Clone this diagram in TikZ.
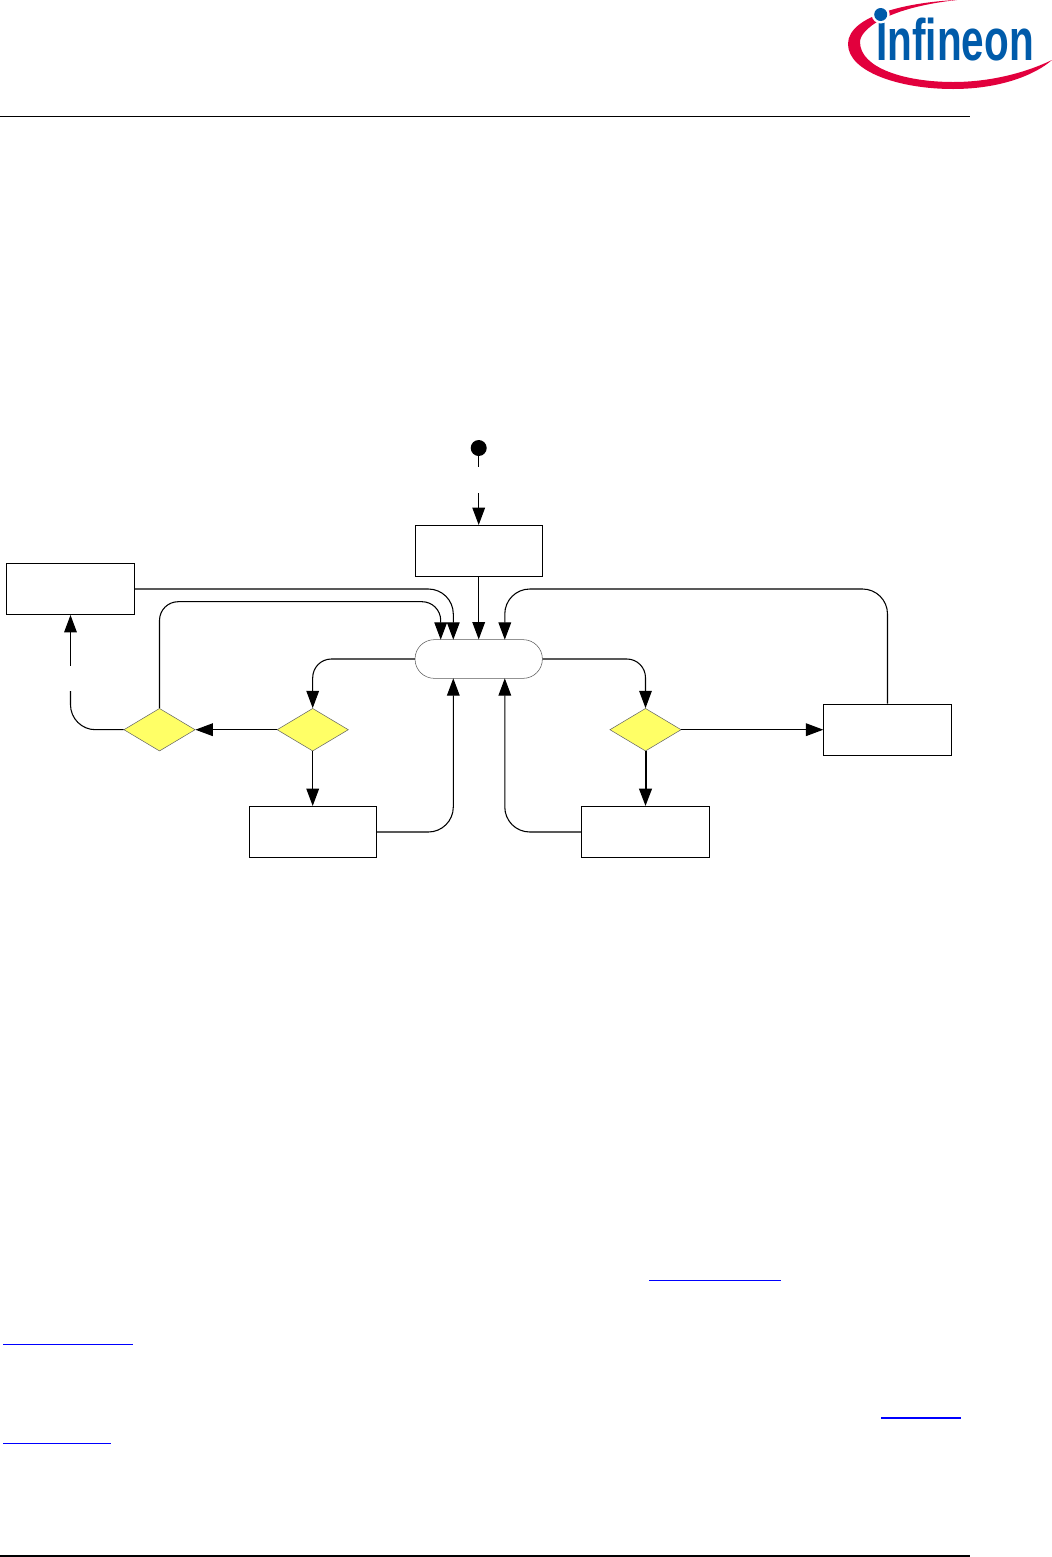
\documentclass[tikz,border=0pt]{standalone}
\usepackage{fontspec}
\usepackage{xcolor}
\usetikzlibrary{arrows.meta,shapes.geometric}
\newfontfamily\logofont[Ligatures=NoCommon]{Liberation Sans}
\definecolor{logoblue}{HTML}{005BAA}
\definecolor{logored}{HTML}{E2003D}
\definecolor{linkblue}{HTML}{0000FF}
\definecolor{decisionyellow}{HTML}{FFFF66}

\begin{document}
\begin{tikzpicture}[x=0.75pt,y=0.75pt,yscale=-1,xscale=1,
		statebox/.style={draw,line width=0.8pt,rectangle,inner sep=0pt,minimum width=95.5pt,minimum height=38.25pt},
		mainstate/.style={draw=black!65,line width=0.4pt,rectangle,rounded corners=14.4pt,inner sep=0pt,minimum width=95.5pt,minimum height=29pt},
		decision/.style={draw=black!60,line width=0.4pt,fill=decisionyellow,diamond,aspect=1.667,inner sep=0pt,minimum width=53.5pt,minimum height=32pt},
		startdot/.style={circle,fill=black,inner sep=0pt,minimum size=12pt},
		conn/.style={line width=0.8pt,-{Triangle[length=13pt,width=9.5pt]}},
		plain/.style={line width=0.8pt},
		bigturn/.style={rounded corners=18.75pt},
		smallturn/.style={rounded corners=14pt},
		rule/.style={line width=0.9pt},
		linkline/.style={draw=linkblue,line width=0.9pt}]
	\useasboundingbox (0,0) rectangle (1052,1557);
	% logo
	\fill[logored] (957,0) .. controls (910,2) and (848,15) .. (848,44) .. controls (848,72) and (900,89) .. (953,89) .. controls (1000,89) and (1035,75) .. (1052,60) .. controls (1025,73) and (990,82) .. (953,82) .. controls (905,82) and (860,68) .. (860,42) .. controls (860,30) and (885,8) .. (957,0) -- cycle;
	\node (logotext) [anchor=base,inner sep=0pt,text=logoblue,font=\logofont\bfseries\fontsize{44}{44}\selectfont] at (955,60) {\scalebox{0.69}[1]{Infineon}};
	\fill[white] (880.7,14.5) circle [radius=9];
	\fill[logoblue] (880.7,14.5) circle [radius=6.5];
	% page rules
	\draw[rule] (0,116.5) -- (970,116.5);
	\draw[rule] (0,1556) -- (970,1556);
	% states
	\node (start) [startdot] at (478.7,448) {};
	\node (initbox) [statebox] at (478.7,551) {};
	\node (errbox) [statebox] at (70.5,589) {};
	\node (mainbox) [mainstate] at (478.7,659) {};
	\node (leftbox) [statebox] at (312.7,832) {};
	\node (lowbox) [statebox] at (645.5,832) {};
	\node (rightbox) [statebox] at (887.5,729.7) {};
	\node (dcheck) [decision] at (159.5,729.7) {};
	\node (dleft) [decision] at (312.7,729.7) {};
	\node (dright) [decision] at (645.5,729.7) {};
	% free ends
	\coordinate (startgapa) at (478.7,466.7);
	\coordinate (startgapb) at (478.7,493.3);
	\coordinate (errgapa) at (70.5,691);
	\coordinate (errgapb) at (70.5,665.7);
	\coordinate (pilla) at (440.7,639.7);
	\coordinate (pillb) at (453.3,639.7);
	\coordinate (pillc) at (504.8,639.7);
	\coordinate (pilld) at (453.3,678.3);
	\coordinate (pille) at (504.8,678.3);
	\coordinate (turnb) at (440.7,601.7);
	\coordinate (turnc) at (504.8,589);
	% connectors
	\draw[plain] (start) -- (startgapa);
	\draw[conn] (startgapb) -- (initbox.north);
	\draw[conn] (initbox.south) -- (mainbox.north);
	\draw[conn,bigturn] (errbox.east) -| (pillb);
	\draw[conn,smallturn] (dcheck.north) |- (turnb) -- (pilla);
	\draw[conn,bigturn] (rightbox.north) |- (turnc) -- (pillc);
	\draw[conn,smallturn] (mainbox.west) -| (dleft.north);
	\draw[conn,smallturn] (mainbox.east) -| (dright.north);
	\draw[conn] (dleft.west) -- (dcheck.east);
	\draw[conn] (dleft.south) -- (leftbox.north);
	\draw[conn,line width=1.5pt] (dright.south) -- (lowbox.north);
	\draw[conn] (dright.east) -- (rightbox.west);
	\draw[conn,bigturn] (leftbox.east) -| (pilld);
	\draw[conn,bigturn] (lowbox.west) -| (pille);
	\draw[plain,bigturn] (dcheck.west) -| (errgapa);
	\draw[conn] (errgapb) -- (errbox.south);
	% link underlines
	\draw[linkline] (649,1280.5) -- (781,1280.5);
	\draw[linkline] (3,1344.5) -- (133,1344.5);
	\draw[linkline,line width=1.4pt] (881,1418) -- (961,1418);
	\draw[linkline] (3,1443.5) -- (111,1443.5);
\end{tikzpicture}
\end{document}
